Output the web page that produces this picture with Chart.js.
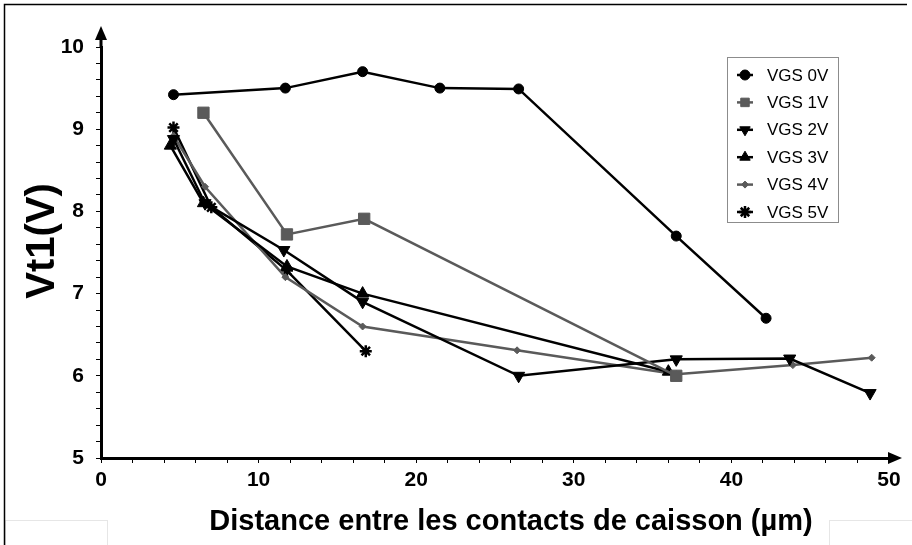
<!DOCTYPE html>
<html>
<head>
<meta charset="utf-8">
<script src="https://cdn.jsdelivr.net/npm/chart.js@4.4.1/dist/chart.umd.min.js"></script>
<style>
  html, body { margin: 0; padding: 0; background: #fff; }
  #wrap { width: 912px; height: 545px; }
</style>
</head>
<body>
<div id="wrap"><canvas id="vtChart" width="912" height="545"></canvas></div>
<script>
// Distance between well contacts (µm) and Vt1 (V), per VGS
const labels = ['VGS 0V', 'VGS 1V', 'VGS 2V', 'VGS 3V', 'VGS 4V', 'VGS 5V'];

const x0 = [4.6, 11.7, 16.6, 21.5, 26.5, 36.5, 42.2];
const y0 = [9.42, 9.5, 9.7, 9.5, 9.49, 7.7, 6.7];

const x1 = [6.5, 11.8, 16.7, 36.5];
const y1 = [9.2, 7.72, 7.91, 6.0];

const x2 = [4.6, 6.6, 11.6, 16.6, 26.5, 36.5, 43.7, 48.8];
const y2 = [8.88, 8.1, 7.53, 6.9, 6.0, 6.2, 6.21, 5.79];

const x3 = [4.4, 6.5, 11.8, 16.6, 36.0];
const y3 = [8.8, 8.1, 7.33, 7.0, 6.05];

const x4 = [4.6, 6.6, 11.7, 16.6, 26.4, 36.5, 43.9, 48.9];
const y4 = [8.92, 8.3, 7.2, 6.6, 6.31, 6.02, 6.13, 6.22];

const x5 = [4.6, 7.0, 11.8, 16.8];
const y5 = [9.02, 8.05, 7.28, 6.3];

const xTickLabels = [0, 10, 20, 30, 40, 50];
const yTickLabels = [5, 6, 7, 8, 9, 10];

const xTitle = 'Distance entre les contacts de caisson (µm)';
const yTitle = 'Vt1(V)';

function pts(xs, ys) {
    return xs.map((x, i) => ({ x: x, y: ys[i] }));
}

const BLACK = '#000000';
const GREY = '#5a5a5a';

const styles = [
    { color: BLACK, pointStyle: 'circle', radius: 5, rotation: 0, pw: 1 },
    { color: GREY, pointStyle: 'rect', radius: 8, rotation: 0, pw: 1 },
    { color: BLACK, pointStyle: 'triangle', radius: 7, rotation: 180, pw: 1 },
    { color: BLACK, pointStyle: 'triangle', radius: 7, rotation: 0, pw: 1 },
    { color: GREY, pointStyle: 'rectRot', radius: 3.5, rotation: 0, pw: 1 },
    { color: BLACK, pointStyle: 'star', radius: 6, rotation: 0, pw: 2.5 }
];

const series = [pts(x0, y0), pts(x1, y1), pts(x2, y2), pts(x3, y3), pts(x4, y4), pts(x5, y5)];

const datasets = series.map((data, i) => ({
    label: labels[i],
    data: data,
    borderColor: styles[i].color,
    backgroundColor: styles[i].color,
    borderWidth: 2.5,
    pointStyle: styles[i].pointStyle,
    pointRadius: styles[i].radius,
    pointRotation: styles[i].rotation,
    pointBorderWidth: styles[i].pw,
    pointBackgroundColor: styles[i].color,
    pointBorderColor: styles[i].color,
    tension: 0,
    fill: false
}));

const isWhole = v => Math.abs(v - Math.round(v)) < 1e-6;

// frame, axis titles, axis arrows and the boxed legend
const decorations = {
    id: 'decorations',
    beforeDraw(chart) {
        const ctx = chart.ctx;
        ctx.save();
        ctx.fillStyle = '#fff';
        ctx.fillRect(0, 0, chart.width, chart.height);
        ctx.strokeStyle = '#e6e6e6';
        ctx.lineWidth = 1;
        ctx.strokeRect(5.5, 520.5, 102, 40);
        ctx.strokeRect(829.5, 520.5, 90, 40);
        ctx.strokeStyle = '#000';
        ctx.lineWidth = 1.5;
        ctx.beginPath();
        ctx.moveTo(4.5, 560);
        ctx.lineTo(4.5, 4.5);
        ctx.lineTo(907, 4.5);
        ctx.stroke();
        ctx.restore();
    },
    afterDraw(chart) {
        const ctx = chart.ctx;
        const a = chart.chartArea;
        ctx.save();

        // axis titles
        ctx.fillStyle = '#000';
        ctx.textAlign = 'center';
        ctx.textBaseline = 'middle';
        ctx.font = 'bold 29px "Liberation Sans", Arial, sans-serif';
        ctx.fillText(xTitle, 511, 522);
        ctx.save();
        ctx.translate(43, 241);
        ctx.rotate(-Math.PI / 2);
        ctx.font = 'bold 40px "Liberation Sans", Arial, sans-serif';
        ctx.fillText(yTitle, 0, 0);
        ctx.restore();

        ctx.strokeStyle = '#000';
        ctx.lineWidth = 3;
        // y arrow
        ctx.beginPath();
        ctx.moveTo(a.left, a.top + 1);
        ctx.lineTo(a.left, 36);
        ctx.stroke();
        ctx.beginPath();
        ctx.moveTo(a.left, 26);
        ctx.lineTo(a.left - 6, 40);
        ctx.lineTo(a.left + 6, 40);
        ctx.closePath();
        ctx.fill();
        // x arrow
        ctx.beginPath();
        ctx.moveTo(a.right - 1, a.bottom);
        ctx.lineTo(892, a.bottom);
        ctx.stroke();
        ctx.beginPath();
        ctx.moveTo(902, a.bottom);
        ctx.lineTo(888, a.bottom - 6);
        ctx.lineTo(888, a.bottom + 6);
        ctx.closePath();
        ctx.fill();

        // legend box
        ctx.fillStyle = '#fff';
        ctx.fillRect(727, 57, 111, 165);
        ctx.strokeStyle = '#8c8c8c';
        ctx.lineWidth = 1;
        ctx.strokeRect(727.5, 57.5, 111, 165);
        ctx.font = '17px "Liberation Sans", Arial, sans-serif';
        ctx.textAlign = 'left';
        ctx.textBaseline = 'middle';
        chart.data.datasets.forEach((ds, i) => {
            const y = 75 + i * 27.4;
            ctx.strokeStyle = ds.borderColor;
            ctx.fillStyle = ds.borderColor;
            ctx.lineWidth = 2.5;
            ctx.beginPath();
            ctx.moveTo(737, y);
            ctx.lineTo(753, y);
            ctx.stroke();
            ctx.lineWidth = ds.pointBorderWidth;
            Chart.helpers.drawPoint(ctx, {
                pointStyle: ds.pointStyle,
                radius: Math.min(ds.pointRadius, 6),
                rotation: ds.pointRotation,
                borderWidth: ds.pointBorderWidth
            }, 745, y);
            ctx.fillStyle = '#000';
            ctx.fillText(ds.label, 767, y + 1);
        });
        ctx.restore();
    }
};

new Chart(document.getElementById('vtChart'), {
    type: 'line',
    data: { datasets: datasets },
    options: {
        responsive: false,
        animation: false,
        devicePixelRatio: 1,
        layout: { padding: { left: 0, top: 47, right: 23, bottom: 0 } },
        plugins: {
            legend: { display: false },
            tooltip: { enabled: false }
        },
        scales: {
            x: {
                type: 'linear',
                min: 0,
                max: 50,
                afterFit(s) { s.height = 87; },
                ticks: {
                    stepSize: 2,
                    autoSkip: false,
                    maxRotation: 0,
                    padding: 5,
                    color: '#000',
                    font: { family: '"Liberation Sans", Arial, sans-serif', size: 21, weight: 'bold' },
                    callback: v => isWhole(v) && xTickLabels.includes(Math.round(v)) ? String(Math.round(v)) : ''
                },
                grid: { drawOnChartArea: false, tickLength: 5, color: '#000', lineWidth: 1 },
                border: { color: '#000', width: 3 }
            },
            y: {
                type: 'linear',
                min: 5,
                max: 10,
                afterFit(s) { s.width = 101; },
                ticks: {
                    stepSize: 0.2,
                    autoSkip: false,
                    padding: 12,
                    color: '#000',
                    font: { family: '"Liberation Sans", Arial, sans-serif', size: 21, weight: 'bold' },
                    callback: v => isWhole(v) && yTickLabels.includes(Math.round(v)) ? String(Math.round(v)) : ''
                },
                grid: { drawOnChartArea: false, tickLength: 5, color: '#000', lineWidth: 1 },
                border: { color: '#000', width: 3 }
            }
        }
    },
    plugins: [decorations]
});
</script>
</body>
</html>
